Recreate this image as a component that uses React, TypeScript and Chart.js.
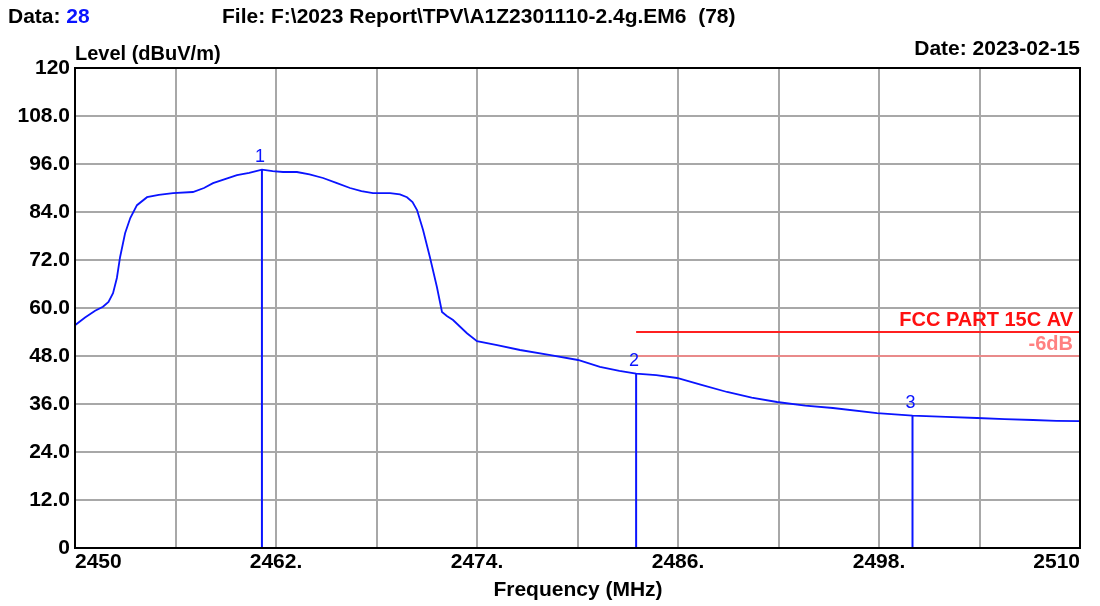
import React, { useEffect, useRef } from "react";
import { Chart, registerables } from "chart.js";

Chart.register(...registerables);

// Spectrum trace (frequency in MHz, level in dBuV/m)
const freqMHz = [
  2450.0, 2450.6, 2451.2, 2451.67, 2452.0, 2452.27, 2452.5, 2452.69, 2452.99, 2453.3,
  2453.7, 2454.3, 2455.0, 2455.85, 2457.04, 2457.7, 2458.24, 2459.0, 2459.67, 2460.4,
  2461.16, 2461.8, 2462.42, 2463.25, 2464.0, 2464.81, 2465.6, 2466.42, 2467.1, 2467.79,
  2468.81, 2469.4, 2469.82, 2470.15, 2470.42, 2470.78, 2471.19, 2471.61, 2471.91, 2472.2,
  2472.57, 2473.4, 2474.0, 2475.2, 2476.57, 2478.3, 2480.03, 2481.34, 2482.5, 2483.5,
  2484.7, 2485.94, 2487.4, 2488.93, 2490.4, 2491.91, 2493.6, 2495.25, 2497.88, 2500.0,
  2502.0, 2503.85, 2505.5, 2507.19, 2508.6, 2510.0,
];
const levelDb = [
  55.7, 57.6, 59.3, 60.3, 61.5, 63.7, 67.5, 72.7, 78.7, 82.5,
  85.7, 87.7, 88.3, 88.7, 89.0, 90.0, 91.2, 92.3, 93.2, 93.8,
  94.6, 94.2, 94.0, 94.0, 93.4, 92.5, 91.3, 90.0, 89.2, 88.7,
  88.7, 88.4, 87.7, 86.5, 84.5, 79.5, 72.7, 65.2, 59.0, 58.0,
  57.0, 53.7, 51.7, 50.7, 49.5, 48.3, 47.0, 45.3, 44.3, 43.6,
  43.2, 42.5, 40.8, 39.0, 37.6, 36.5, 35.6, 35.0, 33.7, 33.1,
  32.8, 32.5, 32.2, 32.0, 31.8, 31.7,
];

// Markers
const markerFreq = [2461.16, 2483.5, 2500.0];
const markerLevel = [94.6, 43.6, 33.1];
const markerLabels = ["1", "2", "3"];

// Limit lines
const limitFreq = [2483.5, 2510];
const limitLevel = 54;
const limitMarginLevel = 48;
const limitName = "FCC PART 15C AV";
const marginName = "-6dB";

// Axes
const xMin = 2450;
const xMax = 2510;
const xStep = 6;
const yMin = 0;
const yMax = 120;
const yStep = 12;

const FONT = '"Liberation Sans", Arial, sans-serif';
const BLUE = "#0a14ff";

const textPlugin = {
  id: "textPlugin",
  afterDatasetsDraw(chart: any) {
    const { ctx, chartArea, scales } = chart;
    ctx.save();
    // frame
    ctx.strokeStyle = "#000";
    ctx.lineWidth = 2;
    ctx.strokeRect(chartArea.left, chartArea.top, chartArea.right - chartArea.left, chartArea.bottom - chartArea.top);

    // marker labels
    ctx.font = `18px ${FONT}`;
    ctx.fillStyle = BLUE;
    ctx.textAlign = "center";
    ctx.textBaseline = "middle";
    markerFreq.forEach((f, i) => {
      const px = scales.x.getPixelForValue(f);
      const py = scales.y.getPixelForValue(markerLevel[i]);
      ctx.fillText(markerLabels[i], px - 2, py - 13);
    });

    // limit labels
    const rx = chartArea.right - 7;
    ctx.textAlign = "right";
    ctx.font = `bold 20px ${FONT}`;
    ctx.fillStyle = "#ff1010";
    ctx.fillText(limitName, rx, scales.y.getPixelForValue(limitLevel) - 12);
    ctx.fillStyle = "#ff8080";
    ctx.fillText(marginName, rx, scales.y.getPixelForValue(limitMarginLevel) - 12);

    // header texts
    ctx.font = `bold 21px ${FONT}`;
    ctx.fillStyle = "#000";
    ctx.textAlign = "left";
    ctx.fillText("Data: ", 8, 17);
    const w = ctx.measureText("Data: ").width;
    ctx.fillStyle = BLUE;
    ctx.fillText("28", 8 + w, 17);
    ctx.fillStyle = "#000";
    ctx.fillText("File: F:\\2023 Report\\TPV\\A1Z2301110-2.4g.EM6  (78)", 222, 17);
    ctx.font = `bold 20px ${FONT}`;
    ctx.fillText("Level (dBuV/m)", chartArea.left, 54);
    ctx.font = `bold 21px ${FONT}`;
    ctx.textAlign = "right";
    ctx.fillText("Date: 2023-02-15", chartArea.right, 49);
    ctx.textAlign = "center";
    ctx.fillText("Frequency (MHz)", 578, 590);
    ctx.restore();
  },
};

export default function App() {
  const ref = useRef<HTMLCanvasElement | null>(null);

  useEffect(() => {
    if (!ref.current) return;
    const trace = freqMHz.map((f, i) => ({ x: f, y: levelDb[i] }));
    const markerSets = markerFreq.map((f, i) => ({
      data: [
        { x: f, y: 0 },
        { x: f, y: markerLevel[i] },
      ],
      borderColor: BLUE,
      borderWidth: 2,
      pointRadius: 0,
    }));
    const chart = new Chart(ref.current, {
      type: "line",
      data: {
        datasets: [
          {
            data: limitFreq.map((f) => ({ x: f, y: limitLevel })),
            borderColor: "#ff2020",
            borderWidth: 2,
            pointRadius: 0,
          },
          {
            data: limitFreq.map((f) => ({ x: f, y: limitMarginLevel })),
            borderColor: "#ff8080",
            borderWidth: 1.5,
            pointRadius: 0,
          },
          ...markerSets,
          {
            data: trace,
            borderColor: BLUE,
            borderWidth: 1.8,
            pointRadius: 0,
            tension: 0,
          },
        ],
      },
      options: {
        responsive: false,
        maintainAspectRatio: false,
        devicePixelRatio: 1,
        animation: false,
        layout: { padding: { left: 0, top: 68, right: 20, bottom: 0 } },
        plugins: { legend: { display: false }, tooltip: { enabled: false } },
        scales: {
          x: {
            type: "linear",
            min: xMin,
            max: xMax,
            ticks: {
              stepSize: xStep,
              autoSkip: false,
              maxRotation: 0,
              align: "inner",
              padding: 2,
              color: "#000",
              font: { family: FONT, size: 21, weight: "bold" },
              callback: (v: any) => {
                const n = Math.round(Number(v));
                if ((n - xMin) % (xStep * 2) !== 0) return "";
                if (n === xMin || n === xMax) return String(n);
                return n + ".";
              },
            },
            grid: { color: "#a8a8a8", lineWidth: 2, drawTicks: false },
            border: { color: "#000", width: 2 },
            afterFit: (s: any) => {
              s.height = 58;
            },
          },
          y: {
            min: yMin,
            max: yMax,
            ticks: {
              stepSize: yStep,
              padding: 5,
              color: "#000",
              font: { family: FONT, size: 21, weight: "bold" },
              callback: (v: any) => {
                const n = Number(v);
                if (n === yMin || n === yMax) return String(n);
                return n.toFixed(1);
              },
            },
            grid: { color: "#a8a8a8", lineWidth: 2, drawTicks: false },
            border: { color: "#000", width: 2 },
            afterFit: (s: any) => {
              s.width = 75;
            },
          },
        },
      },
      plugins: [textPlugin],
    });
    return () => chart.destroy();
  }, []);

  return (
    <div style={{ position: "absolute", left: 0, top: 0, width: 1100, height: 606, background: "#fff" }}>
      <canvas ref={ref} width={1100} height={606} style={{ display: "block" }} />
    </div>
  );
}
